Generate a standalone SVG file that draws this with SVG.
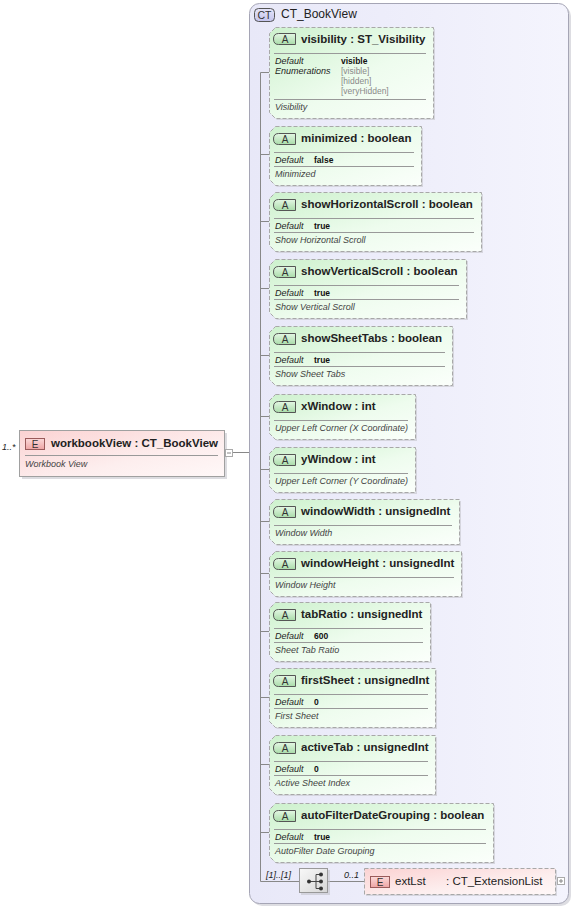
<svg xmlns="http://www.w3.org/2000/svg" width="574" height="908" viewBox="0 0 574 908">
<defs>
<linearGradient id="gAttr" x1="0" y1="0" x2="1" y2="1">
<stop offset="0" stop-color="#cdf1cd"/><stop offset="0.55" stop-color="#eefcee"/><stop offset="1" stop-color="#fbfffb"/>
</linearGradient>
<linearGradient id="gElem" x1="0" y1="0" x2="1" y2="1">
<stop offset="0" stop-color="#fbd2d2"/><stop offset="0.6" stop-color="#fdeeee"/><stop offset="1" stop-color="#fff8f8"/>
</linearGradient>
<linearGradient id="gCont" x1="0" y1="0" x2="1" y2="0">
<stop offset="0" stop-color="#e8e8f8"/><stop offset="1" stop-color="#f4f4fd"/>
</linearGradient>
<linearGradient id="gBadgeA" x1="0" y1="0" x2="0" y2="1">
<stop offset="0" stop-color="#e4f7e4"/><stop offset="1" stop-color="#a9dca9"/>
</linearGradient>
<linearGradient id="gBadgeE" x1="0" y1="0" x2="0" y2="1">
<stop offset="0" stop-color="#fbd9d9"/><stop offset="1" stop-color="#eea4a4"/>
</linearGradient>
<linearGradient id="gBadgeCT" x1="0" y1="0" x2="0" y2="1">
<stop offset="0" stop-color="#e6e6fa"/><stop offset="1" stop-color="#c3c3ec"/>
</linearGradient>
<linearGradient id="gSeq" x1="0" y1="0" x2="1" y2="1">
<stop offset="0" stop-color="#f8f8f8"/><stop offset="1" stop-color="#d6d6d6"/>
</linearGradient>
</defs>
<style>
text{font-family:"Liberation Sans",Arial,sans-serif;fill:#222}
.ttl{font-size:11.5px;font-weight:bold}
.ttn{font-size:11.5px}
.ds{font-size:9px;font-style:italic;fill:#444}
.lb{font-size:9px;font-style:italic;fill:#222}
.vl{font-size:8.5px;font-weight:bold;fill:#111}
.en{font-size:8.5px;fill:#8a8a8a}
.bt{font-size:10px;fill:#333;text-anchor:middle}
.box{fill:url(#gAttr);stroke:#a8a8a8;stroke-dasharray:4,2}
.shd{fill:#c4c4cc;opacity:0.6}
.sep{stroke:#999;stroke-width:1}
.ba{fill:url(#gBadgeA);stroke:#555;stroke-width:1}
.be{fill:url(#gBadgeE);stroke:#9a5a5a;stroke-width:1}
.con{stroke:#888;stroke-width:1;fill:none}
.exp{fill:#fff;stroke:#aaa;stroke-width:1}
</style>

<g id="ct">
<rect x="252" y="6" width="319" height="900" rx="10" fill="#cfcfd6" opacity="0.7"/>
<rect x="249.5" y="3.5" width="319" height="900" rx="10" fill="url(#gCont)" stroke="#a5a5b5"/>
<rect x="254.5" y="8.5" width="20" height="13" rx="4" fill="url(#gBadgeCT)" stroke="#555"/>
<text class="bt" x="264.5" y="19" style="font-size:10.5px">CT</text>
<text x="281" y="18" style="font-size:12px">CT_BookView</text>
</g>

<g id="connectors">
<path class="con" d="M233,452.5 H249"/>
<path class="con" d="M260.5,72.5 V881.5 H299"/>
<path class="con" d="M260.5,72.5 H269 M260.5,154.5 H269 M260.5,221.5 H269 M260.5,288.5 H269 M260.5,355.5 H269 M260.5,416.5 H269 M260.5,469.5 H269 M260.5,521.5 H269 M260.5,573.5 H269 M260.5,631.5 H269 M260.5,697.5 H269 M260.5,764.5 H269 M260.5,832.5 H269"/>
<path class="con" d="M328,881.5 H364"/>
<text class="lb" x="266" y="878">[1]..[1]</text>
<text class="lb" x="344" y="878">0..1</text>
</g>

<g id="workbookView">
<text class="lb" x="2" y="450">1..*</text>
<rect x="22" y="433" width="205" height="46" class="shd"/>
<rect x="19.5" y="430.5" width="205" height="46" fill="url(#gElem)" stroke="#a0a0a0"/>
<rect x="25.5" y="438.5" width="19" height="11" class="be"/>
<text class="bt" x="35" y="448">E</text>
<text class="ttl" x="51" y="447">workbookView : CT_BookView</text>
<line class="sep" x1="25" y1="455.5" x2="218" y2="455.5"/>
<text class="ds" x="25" y="467">Workbook View</text>
<rect class="exp" x="225.5" y="449.5" width="7" height="7"/>
<line x1="227" y1="453" x2="231" y2="453" stroke="#888"/>
</g>

<g id="visibility">
<path class="shd" d="M277,29 H435 V120 H277 L271,114 V35 Z"/>
<path class="box" d="M275.5,27.5 H433.5 V118.5 H275.5 L269.5,112.5 V33.5 Z"/>
<path class="ba" d="M278.5,33.5 H295.5 V44.5 H278.5 Q273.5,44.5 273.5,39 Q273.5,33.5 278.5,33.5 Z"/>
<text class="bt" x="285" y="43">A</text>
<text class="ttl" x="301" y="43">visibility : ST_Visibility</text>
<line class="sep" x1="274" y1="53.5" x2="426" y2="53.5"/>
<text class="lb" x="275" y="64">Default</text>
<text class="lb" x="275" y="74">Enumerations</text>
<text class="vl" x="341" y="64">visible</text>
<text class="en" x="341" y="74">[visible]</text>
<text class="en" x="341" y="84">[hidden]</text>
<text class="en" x="341" y="94">[veryHidden]</text>
<line class="sep" x1="274" y1="99.5" x2="426" y2="99.5"/>
<text class="ds" x="275" y="110">Visibility</text>
</g>

<g id="minimized">
<path class="shd" d="M277,128 H423 V187 H277 L271,181 V134 Z"/>
<path class="box" d="M275.5,126.5 H421.5 V185.5 H275.5 L269.5,179.5 V132.5 Z"/>
<path class="ba" d="M278.5,133.5 H295.5 V144.5 H278.5 Q273.5,144.5 273.5,139 Q273.5,133.5 278.5,133.5 Z"/>
<text class="bt" x="285" y="143">A</text>
<text class="ttl" x="301" y="142">minimized : boolean</text>
<line class="sep" x1="274" y1="152.5" x2="414" y2="152.5"/>
<text class="lb" x="275" y="163">Default</text>
<text class="vl" x="314" y="163">false</text>
<line class="sep" x1="274" y1="166.5" x2="414" y2="166.5"/>
<text class="ds" x="275" y="177">Minimized</text>
</g>

<g id="showHorizontalScroll">
<path class="shd" d="M277,194 H483 V253 H277 L271,247 V200 Z"/>
<path class="box" d="M275.5,192.5 H481.5 V251.5 H275.5 L269.5,245.5 V198.5 Z"/>
<path class="ba" d="M278.5,199.5 H295.5 V210.5 H278.5 Q273.5,210.5 273.5,205 Q273.5,199.5 278.5,199.5 Z"/>
<text class="bt" x="285" y="209">A</text>
<text class="ttl" x="301" y="208">showHorizontalScroll : boolean</text>
<line class="sep" x1="274" y1="218.5" x2="474" y2="218.5"/>
<text class="lb" x="275" y="229">Default</text>
<text class="vl" x="314" y="229">true</text>
<line class="sep" x1="274" y1="232.5" x2="474" y2="232.5"/>
<text class="ds" x="275" y="243">Show Horizontal Scroll</text>
</g>

<g id="showVerticalScroll">
<path class="shd" d="M277,261 H468 V320 H277 L271,314 V267 Z"/>
<path class="box" d="M275.5,259.5 H466.5 V318.5 H275.5 L269.5,312.5 V265.5 Z"/>
<path class="ba" d="M278.5,266.5 H295.5 V277.5 H278.5 Q273.5,277.5 273.5,272 Q273.5,266.5 278.5,266.5 Z"/>
<text class="bt" x="285" y="276">A</text>
<text class="ttl" x="301" y="275">showVerticalScroll : boolean</text>
<line class="sep" x1="274" y1="285.5" x2="459" y2="285.5"/>
<text class="lb" x="275" y="296">Default</text>
<text class="vl" x="314" y="296">true</text>
<line class="sep" x1="274" y1="299.5" x2="459" y2="299.5"/>
<text class="ds" x="275" y="310">Show Vertical Scroll</text>
</g>

<g id="showSheetTabs">
<path class="shd" d="M277,328 H454 V387 H277 L271,381 V334 Z"/>
<path class="box" d="M275.5,326.5 H452.5 V385.5 H275.5 L269.5,379.5 V332.5 Z"/>
<path class="ba" d="M278.5,333.5 H295.5 V344.5 H278.5 Q273.5,344.5 273.5,339 Q273.5,333.5 278.5,333.5 Z"/>
<text class="bt" x="285" y="343">A</text>
<text class="ttl" x="301" y="342">showSheetTabs : boolean</text>
<line class="sep" x1="274" y1="352.5" x2="445" y2="352.5"/>
<text class="lb" x="275" y="363">Default</text>
<text class="vl" x="314" y="363">true</text>
<line class="sep" x1="274" y1="366.5" x2="445" y2="366.5"/>
<text class="ds" x="275" y="377">Show Sheet Tabs</text>
</g>

<g id="xWindow">
<path class="shd" d="M277,396 H417 V441 H277 L271,435 V402 Z"/>
<path class="box" d="M275.5,394.5 H415.5 V439.5 H275.5 L269.5,433.5 V400.5 Z"/>
<path class="ba" d="M278.5,401.5 H295.5 V412.5 H278.5 Q273.5,412.5 273.5,407 Q273.5,401.5 278.5,401.5 Z"/>
<text class="bt" x="285" y="411">A</text>
<text class="ttl" x="301" y="410">xWindow : int</text>
<line class="sep" x1="274" y1="420.5" x2="408" y2="420.5"/>
<text class="ds" x="275" y="431">Upper Left Corner (X Coordinate)</text>
</g>

<g id="yWindow">
<path class="shd" d="M277,449 H417 V494 H277 L271,488 V455 Z"/>
<path class="box" d="M275.5,447.5 H415.5 V492.5 H275.5 L269.5,486.5 V453.5 Z"/>
<path class="ba" d="M278.5,454.5 H295.5 V465.5 H278.5 Q273.5,465.5 273.5,460 Q273.5,454.5 278.5,454.5 Z"/>
<text class="bt" x="285" y="464">A</text>
<text class="ttl" x="301" y="463">yWindow : int</text>
<line class="sep" x1="274" y1="473.5" x2="408" y2="473.5"/>
<text class="ds" x="275" y="484">Upper Left Corner (Y Coordinate)</text>
</g>

<g id="windowWidth">
<path class="shd" d="M277,501 H461 V546 H277 L271,540 V507 Z"/>
<path class="box" d="M275.5,499.5 H459.5 V544.5 H275.5 L269.5,538.5 V505.5 Z"/>
<path class="ba" d="M278.5,506.5 H295.5 V517.5 H278.5 Q273.5,517.5 273.5,512 Q273.5,506.5 278.5,506.5 Z"/>
<text class="bt" x="285" y="516">A</text>
<text class="ttl" x="301" y="515">windowWidth : unsignedInt</text>
<line class="sep" x1="274" y1="525.5" x2="452" y2="525.5"/>
<text class="ds" x="275" y="536">Window Width</text>
</g>

<g id="windowHeight">
<path class="shd" d="M277,553 H463 V598 H277 L271,592 V559 Z"/>
<path class="box" d="M275.5,551.5 H461.5 V596.5 H275.5 L269.5,590.5 V557.5 Z"/>
<path class="ba" d="M278.5,558.5 H295.5 V569.5 H278.5 Q273.5,569.5 273.5,564 Q273.5,558.5 278.5,558.5 Z"/>
<text class="bt" x="285" y="568">A</text>
<text class="ttl" x="301" y="567">windowHeight : unsignedInt</text>
<line class="sep" x1="274" y1="577.5" x2="454" y2="577.5"/>
<text class="ds" x="275" y="588">Window Height</text>
</g>

<g id="tabRatio">
<path class="shd" d="M277,604 H432 V663 H277 L271,657 V610 Z"/>
<path class="box" d="M275.5,602.5 H430.5 V661.5 H275.5 L269.5,655.5 V608.5 Z"/>
<path class="ba" d="M278.5,609.5 H295.5 V620.5 H278.5 Q273.5,620.5 273.5,615 Q273.5,609.5 278.5,609.5 Z"/>
<text class="bt" x="285" y="619">A</text>
<text class="ttl" x="301" y="618">tabRatio : unsignedInt</text>
<line class="sep" x1="274" y1="628.5" x2="423" y2="628.5"/>
<text class="lb" x="275" y="639">Default</text>
<text class="vl" x="314" y="639">600</text>
<line class="sep" x1="274" y1="642.5" x2="423" y2="642.5"/>
<text class="ds" x="275" y="653">Sheet Tab Ratio</text>
</g>

<g id="firstSheet">
<path class="shd" d="M277,670 H437 V729 H277 L271,723 V676 Z"/>
<path class="box" d="M275.5,668.5 H435.5 V727.5 H275.5 L269.5,721.5 V674.5 Z"/>
<path class="ba" d="M278.5,675.5 H295.5 V686.5 H278.5 Q273.5,686.5 273.5,681 Q273.5,675.5 278.5,675.5 Z"/>
<text class="bt" x="285" y="685">A</text>
<text class="ttl" x="301" y="684">firstSheet : unsignedInt</text>
<line class="sep" x1="274" y1="694.5" x2="428" y2="694.5"/>
<text class="lb" x="275" y="705">Default</text>
<text class="vl" x="314" y="705">0</text>
<line class="sep" x1="274" y1="708.5" x2="428" y2="708.5"/>
<text class="ds" x="275" y="719">First Sheet</text>
</g>

<g id="activeTab">
<path class="shd" d="M277,737 H437 V796 H277 L271,790 V743 Z"/>
<path class="box" d="M275.5,735.5 H435.5 V794.5 H275.5 L269.5,788.5 V741.5 Z"/>
<path class="ba" d="M278.5,742.5 H295.5 V753.5 H278.5 Q273.5,753.5 273.5,748 Q273.5,742.5 278.5,742.5 Z"/>
<text class="bt" x="285" y="752">A</text>
<text class="ttl" x="301" y="751">activeTab : unsignedInt</text>
<line class="sep" x1="274" y1="761.5" x2="428" y2="761.5"/>
<text class="lb" x="275" y="772">Default</text>
<text class="vl" x="314" y="772">0</text>
<line class="sep" x1="274" y1="775.5" x2="428" y2="775.5"/>
<text class="ds" x="275" y="786">Active Sheet Index</text>
</g>

<g id="autoFilterDateGrouping">
<path class="shd" d="M277,805 H495 V864 H277 L271,858 V811 Z"/>
<path class="box" d="M275.5,803.5 H493.5 V862.5 H275.5 L269.5,856.5 V809.5 Z"/>
<path class="ba" d="M278.5,810.5 H295.5 V821.5 H278.5 Q273.5,821.5 273.5,816 Q273.5,810.5 278.5,810.5 Z"/>
<text class="bt" x="285" y="820">A</text>
<text class="ttl" x="301" y="819">autoFilterDateGrouping : boolean</text>
<line class="sep" x1="274" y1="829.5" x2="486" y2="829.5"/>
<text class="lb" x="275" y="840">Default</text>
<text class="vl" x="314" y="840">true</text>
<line class="sep" x1="274" y1="843.5" x2="486" y2="843.5"/>
<text class="ds" x="275" y="854">AutoFilter Date Grouping</text>
</g>

<g id="sequence">
<rect x="301" y="870" width="29" height="25" class="shd"/>
<rect x="299.5" y="868.5" width="28" height="24" fill="url(#gSeq)" stroke="#999"/>
<path d="M309,881.5 H316 M316,874.5 V888.5 M316,874.5 H321 M316,881.5 H321 M316,888.5 H321" stroke="#444" fill="none"/>
<circle cx="309" cy="881.5" r="2" fill="#333"/>
<circle cx="321" cy="874.5" r="2" fill="#333"/>
<circle cx="321" cy="881.5" r="2" fill="#333"/>
<circle cx="321" cy="888.5" r="2" fill="#333"/>
</g>

<g id="extLst">
<rect x="366" y="870" width="191" height="26" class="shd"/>
<rect x="364.5" y="868.5" width="191" height="26" fill="url(#gElem)" stroke="#a8a8a8" stroke-dasharray="4,2"/>
<rect x="370.5" y="876.5" width="19" height="11" class="be"/>
<text class="bt" x="380" y="886">E</text>
<text class="ttn" x="395" y="885">extLst</text>
<text class="ttn" x="446" y="885">: CT_ExtensionList</text>
<rect class="exp" x="557.5" y="877.5" width="7" height="7"/>
<path d="M559,881 H563 M561,879 V883" stroke="#888"/>
</g>
</svg>
